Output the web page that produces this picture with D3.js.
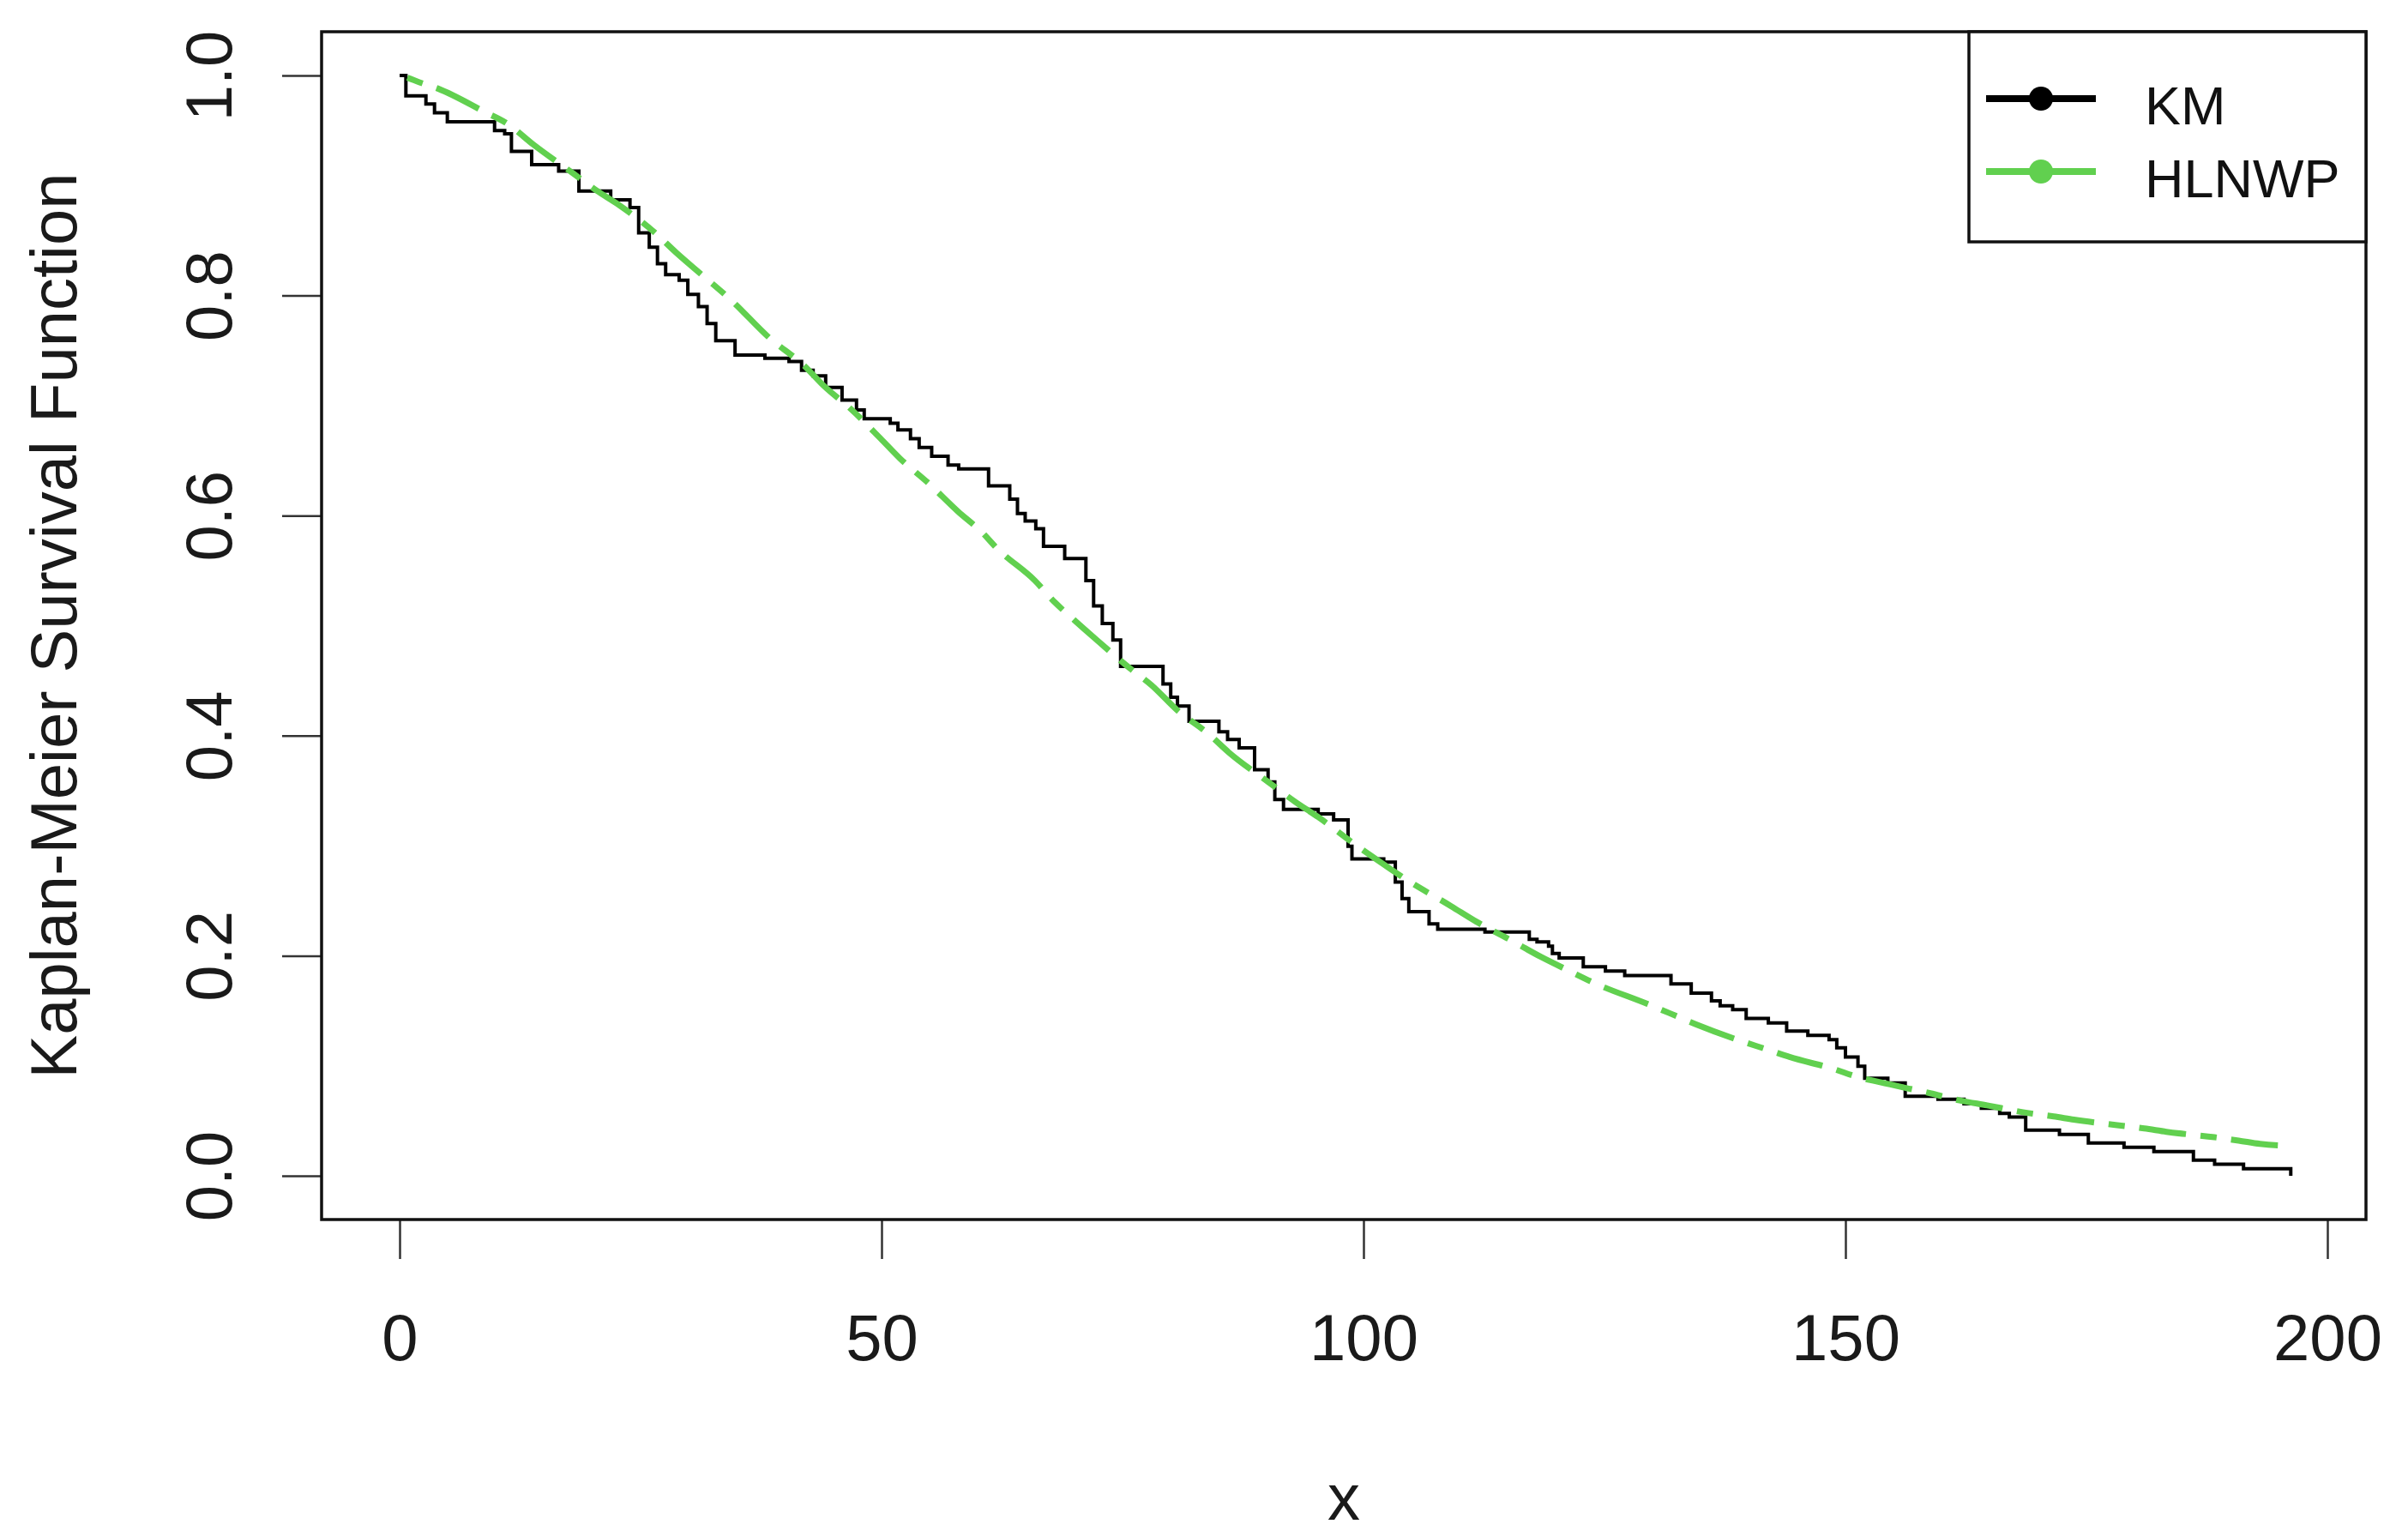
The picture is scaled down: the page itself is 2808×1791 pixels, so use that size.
<!DOCTYPE html>
<html>
<head>
<meta charset="utf-8">
<script src="https://cdnjs.cloudflare.com/ajax/libs/d3/7.8.5/d3.min.js"></script>
<style>
  body { margin: 0; background: #fff; }
  svg text { font-family: "Liberation Sans", Arial, sans-serif; }
</style>
</head>
<body>
<div class="chart"></div>
<script>
// Kaplan-Meier steps: time of each drop and survival after it
var kmTime = [0, 0.65, 2.73, 3.62, 4.95, 9.85, 10.9, 11.6, 13.7, 16.5, 18.6, 21.9, 23.9, 24.8, 25.9,
  26.75, 27.6, 29.0, 29.9, 31.0, 31.9, 32.8, 34.8, 37.9, 40.4, 41.7, 42.9, 44.2, 45.9, 47.4, 48.2,
  50.9, 51.7, 53.0, 53.9, 55.2, 56.9, 58.0, 61.1, 63.3, 64.1, 64.9, 66.0, 66.8, 69.0, 71.2, 72.0,
  72.9, 74.0, 74.8, 79.2, 80.0, 80.7, 81.9, 85.0, 85.9, 87.1, 88.7, 90.1, 90.8, 91.7, 95.3, 96.9,
  98.4, 98.8, 102.1, 103.3, 104.0, 104.7, 106.8, 107.7, 112.6, 117.2, 118.0, 119.2, 119.6, 120.3,
  122.8, 125.1, 127.1, 131.9, 134.0, 136.1, 137.0, 138.3, 139.7, 142.0, 143.9, 146.1, 148.3, 149.1,
  150.0, 151.3, 152.0, 154.4, 156.2, 159.6, 162.3, 164.1, 166.0, 167.0, 168.7, 172.2, 175.2, 178.9,
  182.0, 186.1, 188.3, 191.3, 196.2];
var kmSurv = [1, 0.9815, 0.974, 0.966, 0.958, 0.950, 0.947, 0.931, 0.919, 0.913, 0.895, 0.887, 0.880, 0.857, 0.844,
  0.829, 0.819, 0.814, 0.801, 0.790, 0.7745, 0.759, 0.746, 0.743, 0.740, 0.732, 0.727, 0.7165, 0.705, 0.696, 0.688,
  0.684, 0.678, 0.670, 0.662, 0.654, 0.646, 0.6425, 0.627, 0.615, 0.602, 0.595, 0.588, 0.572, 0.561, 0.541, 0.518,
  0.502, 0.487, 0.463, 0.447, 0.435, 0.427, 0.413, 0.4035, 0.3965, 0.389, 0.369, 0.358, 0.342, 0.333, 0.329, 0.3235,
  0.2995, 0.288, 0.285, 0.267, 0.252, 0.240, 0.229, 0.224, 0.2216, 0.215, 0.2125, 0.2086, 0.2021, 0.198,
  0.190, 0.186, 0.182, 0.1744, 0.166, 0.159, 0.1546, 0.151, 0.143, 0.139, 0.1315, 0.1276, 0.1237, 0.1164,
  0.108, 0.0995, 0.0886, 0.0844, 0.0723, 0.0695, 0.0655, 0.0613, 0.0567, 0.0533, 0.0416, 0.0376, 0.0298, 0.026,
  0.022, 0.0143, 0.0106, 0.0065, 0];

var fitTime = [0.8, 2, 4, 8.8, 11.2, 13.9, 18, 20.5, 22.8, 26.5, 28.7, 30.8, 34.5, 38.3, 42, 44, 46.8,
  49.9, 51.9, 54.8, 57.9, 60.4, 62, 65.9, 68, 70, 73.5, 75.8, 78, 80.7, 84, 86, 90.1, 92.9, 95.3, 99.3,
  102.1, 104.3, 109.1, 111.7, 115.1, 118.4, 121.4, 124, 129.5, 131.7, 134.4, 139, 141.8, 144.2, 148.8,
  151.2, 153.6, 158.8, 161.6, 164.7, 169, 171.6, 173.7, 178.2, 181, 183.3, 188.3, 190.8, 193, 196.3];
var fitSurv = [0.998, 0.994, 0.988, 0.967, 0.956, 0.937, 0.911, 0.895, 0.882, 0.857, 0.839, 0.823, 0.795, 0.762, 0.736, 0.718, 0.697,
  0.670, 0.652, 0.630, 0.604, 0.585, 0.570, 0.541, 0.521, 0.505, 0.478, 0.461, 0.446, 0.423, 0.401, 0.385, 0.358, 0.340, 0.326, 0.300,
  0.283, 0.270, 0.245, 0.231, 0.215, 0.199, 0.186, 0.175, 0.156, 0.148, 0.138, 0.123, 0.115, 0.108, 0.097,
  0.090, 0.085, 0.075, 0.069, 0.064, 0.057, 0.054, 0.051, 0.046, 0.043, 0.040, 0.035, 0.032, 0.029, 0.027];

var xTicks = [0, 50, 100, 150, 200];
var yTicks = [0, 0.2, 0.4, 0.6, 0.8, 1.0];
var legendNames = ["KM", "HLNWP"];
var legendColors = ["#000000", "#61D04F"];

var svgWidth = 2808;
var svgHeight = 1791;

// plot box (R style, 4% padding around the data range)
var box = { left: 375, top: 37, right: 2759, bottom: 1422 };

var svg = d3.select(".chart")
  .append("svg")
  .attr("width", svgWidth)
  .attr("height", svgHeight);

var xScale = d3.scaleLinear().domain([0, 200]).range([466, 2714]);
var yScale = d3.scaleLinear().domain([0, 1]).range([1371, 88]);

// x axis
var xAxis = d3.axisBottom(xScale)
  .tickValues(xTicks)
  .tickFormat(d3.format("d"))
  .tickSize(46)
  .tickPadding(64);

var gx = svg.append("g")
  .attr("transform", `translate(0, ${box.bottom})`)
  .call(xAxis);
gx.select(".domain").remove();
gx.selectAll("line").attr("stroke", "#333").attr("stroke-width", 2.5);
gx.selectAll("text")
  .style("font-size", "76px")
  .attr("fill", "#1a1a1a");

// y axis, labels turned like R's default
var yAxis = d3.axisLeft(yScale)
  .tickValues(yTicks)
  .tickFormat(d3.format(".1f"))
  .tickSize(46);

var gy = svg.append("g")
  .attr("transform", `translate(${box.left}, 0)`)
  .call(yAxis);
gy.select(".domain").remove();
gy.selectAll("line").attr("stroke", "#333").attr("stroke-width", 2.5);
gy.selectAll("text")
  .attr("x", null)
  .attr("dy", null)
  .attr("text-anchor", "middle")
  .attr("transform", "translate(-105,0) rotate(-90)")
  .style("font-size", "76px")
  .attr("fill", "#1a1a1a");

// axis titles
svg.append("text")
  .attr("x", (box.left + box.right) / 2)
  .attr("y", 1772)
  .attr("text-anchor", "middle")
  .style("font-size", "76px")
  .attr("fill", "#1a1a1a")
  .text("x");

svg.append("text")
  .attr("transform", `translate(89, ${(box.top + box.bottom) / 2}) rotate(-90)`)
  .attr("text-anchor", "middle")
  .style("font-size", "76px")
  .attr("fill", "#1a1a1a")
  .text("Kaplan-Meier Survival Function");

// KM step curve
var kmData = kmTime.map((t, i) => ({ t: t, s: kmSurv[i] }));
var kmLine = d3.line()
  .x(d => xScale(d.t))
  .y(d => yScale(d.s))
  .curve(d3.curveStepAfter);

svg.append("path")
  .datum(kmData)
  .attr("d", kmLine)
  .attr("fill", "none")
  .attr("stroke", legendColors[0])
  .attr("stroke-width", 4);

// fitted curve, twodash
var fitData = fitTime.map((t, i) => ({ t: t, s: fitSurv[i] }));
var fitLine = d3.line()
  .x(d => xScale(d.t))
  .y(d => yScale(d.s))
  .curve(d3.curveMonotoneX);

svg.append("path")
  .datum(fitData)
  .attr("d", fitLine)
  .attr("fill", "none")
  .attr("stroke", legendColors[1])
  .attr("stroke-width", 7)
  .attr("stroke-dasharray", "19,17,55,17");

// plot box
svg.append("rect")
  .attr("x", box.left)
  .attr("y", box.top)
  .attr("width", box.right - box.left)
  .attr("height", box.bottom - box.top)
  .attr("fill", "none")
  .attr("stroke", "#111")
  .attr("stroke-width", 3.5);

// legend, top right
var legend = svg.append("g");
legend.append("rect")
  .attr("x", 2296)
  .attr("y", box.top)
  .attr("width", box.right - 2296)
  .attr("height", 245)
  .attr("fill", "#fff")
  .attr("stroke", "#111")
  .attr("stroke-width", 3.5);

var items = legend.selectAll(".item")
  .data(legendNames)
  .enter()
  .append("g")
  .attr("transform", (d, i) => `translate(0, ${115 + i * 85})`);

items.append("line")
  .attr("x1", 2316)
  .attr("x2", 2444)
  .attr("stroke", (d, i) => legendColors[i])
  .attr("stroke-width", 8);

items.append("circle")
  .attr("cx", 2380)
  .attr("r", 14)
  .attr("fill", (d, i) => legendColors[i]);

items.append("text")
  .attr("x", 2501)
  .attr("y", 30)
  .style("font-size", "63px")
  .attr("fill", "#111")
  .text(d => d);
</script>
</body>
</html>
